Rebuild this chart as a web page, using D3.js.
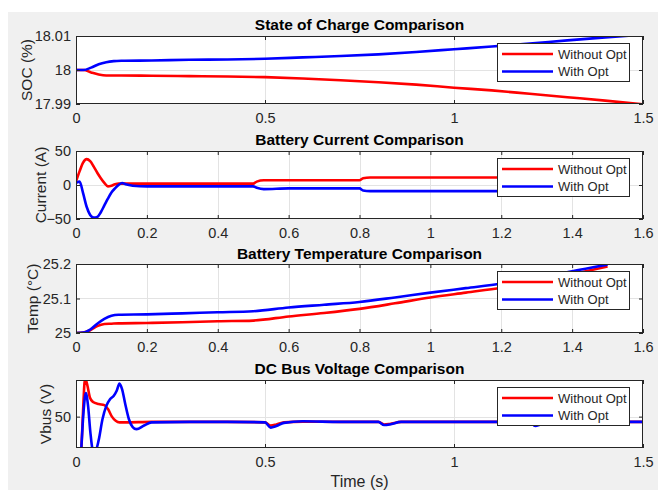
<!DOCTYPE html>
<html>
<head>
<meta charset="utf-8">
<script src="https://cdn.jsdelivr.net/npm/d3@7"></script>
<style>
  body { margin: 0; background: #ffffff; }
  text { font-family: "Liberation Sans", Arial, sans-serif; }
</style>
</head>
<body>
<script>
// ---- data ----
var seriesNames = ["Without Opt", "With Opt"];

// state of charge (%)
var socT = [0, 0.02, 0.04, 0.06, 0.08, 0.1, 0.12, 0.2, 0.3, 0.4, 0.5, 0.6, 0.7, 0.8, 0.9, 1.0, 1.1, 1.2, 1.3, 1.4, 1.5];
var socWithout = [18.0, 18.0, 17.9993, 17.9987, 17.9984, 17.9984, 17.9984, 17.9983, 17.9982, 17.9981, 17.9979,
  17.9975, 17.997, 17.9964, 17.9957, 17.9948, 17.994, 17.993, 17.992, 17.991, 17.9899];
var socWith = [18.0, 18.0, 18.0007, 18.0017, 18.0023, 18.0026, 18.0027, 18.0028, 18.003, 18.0031, 18.0033,
  18.0037, 18.0041, 18.0046, 18.0053, 18.0061, 18.0069, 18.0078, 18.0087, 18.0096, 18.0104];

// battery current (A)
var curT = [0, 0.01, 0.02, 0.03, 0.04, 0.05, 0.06, 0.07, 0.08, 0.09, 0.1, 0.11, 0.12, 0.13, 0.14, 0.16, 0.2, 0.3, 0.4,
  0.5, 0.51, 0.53, 0.6, 0.7, 0.8, 0.81, 0.83, 0.9, 1.0, 1.1, 1.2, 1.3, 1.4, 1.5];
var curWithout = [5, 20, 33, 38, 35, 27, 18, 10, 3, -2, -1, 1, 2, 2, 2, 2, 2, 2, 2,
  2, 5, 7, 7, 7, 7, 10, 11, 11, 11, 11, 11, 11, 11, 11];
var curWith = [3, 5, -12, -32, -44, -48, -47, -40, -30, -20, -11, -5, 0, 3, 1, -1, -2, -2, -2,
  -2, -4, -6, -5, -5, -5, -8, -9, -9, -9, -9, -9, -9, -9, -9];

// battery temperature (°C)
var tempT = [0, 0.02, 0.04, 0.06, 0.08, 0.1, 0.12, 0.2, 0.3, 0.4, 0.5, 0.6, 0.7, 0.8, 0.9, 1.0, 1.1, 1.2, 1.3, 1.4, 1.5];
var tempWithout = [25.0, 25.001, 25.008, 25.02, 25.026, 25.027, 25.028, 25.029, 25.031, 25.034, 25.036,
  25.048, 25.058, 25.07, 25.086, 25.103, 25.117, 25.131, 25.148, 25.17, 25.193];
var tempWith = [25.0, 25.001, 25.01, 25.027, 25.041, 25.05, 25.053, 25.054, 25.057, 25.06, 25.063,
  25.074, 25.082, 25.09, 25.103, 25.117, 25.13, 25.143, 25.158, 25.179, 25.198];

// DC bus voltage (V)
var vbusTWithout = [0, 0.012, 0.018, 0.024, 0.03, 0.037, 0.045, 0.06, 0.075, 0.085, 0.095, 0.105, 0.115, 0.13, 0.2,
  0.3, 0.4, 0.5, 0.515, 0.53, 0.55, 0.6, 0.7, 0.8, 0.815, 0.83, 0.86, 0.9, 1.0, 1.1, 1.2, 1.215, 1.23, 1.26, 1.3, 1.4, 1.5];
var vbusWithout = [30, 40, 50, 57.3, 56, 53.6, 52.8, 52.4, 52.2, 51.4, 50, 49.2, 48.9, 48.9, 49.0,
  49.0, 49.0, 48.9, 48.3, 48.5, 48.9, 49.05, 49.0, 49.0, 48.5, 48.6, 49.0, 49.0, 49.0, 49.0, 49.0, 48.5, 48.7, 49.0, 49.0, 49.0, 49.0];
var vbusTWith = [0, 0.014, 0.02, 0.026, 0.032, 0.038, 0.045, 0.052, 0.06, 0.07, 0.08, 0.09, 0.1, 0.108, 0.115, 0.122,
  0.13, 0.14, 0.15, 0.16, 0.18, 0.2, 0.3, 0.4, 0.5, 0.515, 0.53, 0.55, 0.6, 0.7, 0.8, 0.815, 0.83, 0.86, 0.9,
  1.0, 1.1, 1.2, 1.215, 1.23, 1.26, 1.3, 1.4, 1.5];
var vbusWith = [30, 44, 51, 54.5, 52, 47, 43.6, 43.6, 45.5, 49.5, 52, 53.3, 54, 55, 56.3, 55.2,
  52.5, 49.5, 48, 47.6, 48.3, 48.9, 49.0, 49.0, 48.9, 47.9, 48.2, 48.8, 49.1, 49.0, 49.0, 48.4, 48.5, 49.0, 49.0,
  49.0, 49.0, 49.0, 48.2, 48.5, 49.0, 49.0, 49.0, 49.0];

var xTicksA = [0, 0.5, 1, 1.5];
var xTicksB = [0, 0.2, 0.4, 0.6, 0.8, 1, 1.2, 1.4, 1.6];

var W = 658, H = 490;
var axL = 76, axR = 643;
var axisColor = "#262626", gridColor = "#e3e3e3";
var colors = ["#ff0000", "#0000ff"];

var svg = d3.select("body").append("svg")
  .attr("width", W)
  .attr("height", H);

// figure background
svg.append("rect")
  .attr("x", 8).attr("y", 12)
  .attr("width", W - 8).attr("height", H - 12)
  .attr("fill", "#f0f0f0");

var panels = [
  {title: "State of Charge Comparison", ylab: "SOC (%)", top: 36, bottom: 104, xdom: [0, 1.5], xticks: xTicksA,
   ydom: [17.99, 18.01], yticks: [17.99, 18, 18.01], yfmt: function(d) { return String(+d.toFixed(2)); },
   series: [[socT, socWithout], [socT, socWith]], ylabX: 32, titleY: 30},
  {title: "Battery Current Comparison", ylab: "Current (A)", top: 151, bottom: 219, xdom: [0, 1.6], xticks: xTicksB,
   ydom: [-50, 50], yticks: [-50, 0, 50], yfmt: d3.format(""),
   series: [[curT, curWithout], [curT, curWith]], ylabX: 46, titleY: 145},
  {title: "Battery Temperature Comparison", ylab: "Temp (°C)", top: 264, bottom: 333, xdom: [0, 1.6], xticks: xTicksB,
   ydom: [25, 25.2], yticks: [25, 25.1, 25.2], yfmt: function(d) { return String(+d.toFixed(1)); },
   series: [[tempT, tempWithout], [tempT, tempWith]], ylabX: 38, titleY: 259},
  {title: "DC Bus Voltage Comparison", ylab: "Vbus (V)", top: 380, bottom: 448, xdom: [0, 1.5], xticks: xTicksA,
   ydom: [44, 57], yticks: [50], yfmt: d3.format(""),
   series: [[vbusTWithout, vbusWithout], [vbusTWith, vbusWith]], ylabX: 51, titleY: 374}
];

panels.forEach(function(p, i) {
  var x = d3.scaleLinear().domain(p.xdom).range([axL, axR]);
  var y = d3.scaleLinear().domain(p.ydom).range([p.bottom, p.top]);
  var g = svg.append("g");

  g.append("rect")
    .attr("x", axL).attr("y", p.top)
    .attr("width", axR - axL).attr("height", p.bottom - p.top)
    .attr("fill", "#ffffff");

  // grid
  g.append("g").selectAll("line")
    .data(p.xticks.slice(1, -1))
    .enter().append("line")
    .attr("x1", function(d) { return Math.round(x(d)) + 0.5; })
    .attr("x2", function(d) { return Math.round(x(d)) + 0.5; })
    .attr("y1", p.top).attr("y2", p.bottom)
    .attr("stroke", gridColor);
  g.append("g").selectAll("line")
    .data(p.yticks.filter(function(d) { return d != p.ydom[0] && d != p.ydom[1]; }))
    .enter().append("line")
    .attr("y1", function(d) { return Math.round(y(d)) + 0.5; })
    .attr("y2", function(d) { return Math.round(y(d)) + 0.5; })
    .attr("x1", axL).attr("x2", axR)
    .attr("stroke", gridColor);

  // data lines
  g.append("clipPath").attr("id", "clip" + i)
    .append("rect")
    .attr("x", axL).attr("y", p.top)
    .attr("width", axR - axL).attr("height", p.bottom - p.top);

  var line = d3.line()
    .x(function(d) { return x(d[0]); })
    .y(function(d) { return y(d[1]); })
    .curve(d3.curveMonotoneX);

  p.series.forEach(function(s, k) {
    var pts = s[0].map(function(t, j) { return [t, s[1][j]]; });
    g.append("path")
      .datum(pts)
      .attr("clip-path", "url(#clip" + i + ")")
      .attr("fill", "none")
      .attr("stroke", colors[k])
      .attr("stroke-width", 2.6)
      .attr("stroke-linejoin", "round")
      .attr("d", line);
  });

  // axes (ticks inside, MATLAB style)
  var xb = g.append("g").attr("transform", "translate(0," + p.bottom + ")")
    .call(d3.axisBottom(x).tickValues(p.xticks).tickSizeInner(-4).tickSizeOuter(0).tickPadding(9)
      .tickFormat(d3.format("")));
  var xt = g.append("g").attr("transform", "translate(0," + p.top + ")")
    .call(d3.axisTop(x).tickValues(p.xticks).tickSizeInner(-4).tickSizeOuter(0).tickFormat(""));
  var yl = g.append("g").attr("transform", "translate(" + axL + ",0)")
    .call(d3.axisLeft(y).tickValues(p.yticks).tickSizeInner(-4).tickSizeOuter(0).tickPadding(5).tickFormat(p.yfmt));
  var yr = g.append("g").attr("transform", "translate(" + axR + ",0)")
    .call(d3.axisRight(y).tickValues(p.yticks).tickSizeInner(-4).tickSizeOuter(0).tickFormat(""));

  [xb, xt, yl, yr].forEach(function(a) {
    a.select(".domain").remove();
    a.selectAll("line").attr("stroke", axisColor);
    a.selectAll("text")
      .attr("fill", axisColor)
      .style("font-size", "14.5px")
      .style("font-family", "'Liberation Sans', Arial, sans-serif");
  });

  g.append("rect")
    .attr("x", axL + 0.5).attr("y", p.top + 0.5)
    .attr("width", axR - axL - 1).attr("height", p.bottom - p.top - 1)
    .attr("fill", "none")
    .attr("stroke", axisColor);

  // title and y label
  g.append("text")
    .attr("x", (axL + axR) / 2)
    .attr("y", p.titleY)
    .attr("text-anchor", "middle")
    .style("font-size", "15.5px")
    .style("font-weight", "bold")
    .attr("fill", "#000")
    .text(p.title);

  var cy = (p.top + p.bottom) / 2;
  g.append("text")
    .attr("transform", "translate(" + p.ylabX + "," + cy + ") rotate(-90)")
    .attr("text-anchor", "middle")
    .style("font-size", "15.5px")
    .attr("fill", axisColor)
    .text(p.ylab);

  // legend
  var lx = 497, ly = p.top + 7;
  var leg = g.append("g").attr("transform", "translate(" + lx + "," + ly + ")");
  leg.append("rect")
    .attr("x", 0.5).attr("y", 0.5)
    .attr("width", 132).attr("height", 38)
    .attr("fill", "#ffffff")
    .attr("stroke", axisColor);
  seriesNames.forEach(function(name, k) {
    var ry = 11 + k * 17.5;
    leg.append("line")
      .attr("x1", 5).attr("x2", 56)
      .attr("y1", ry).attr("y2", ry)
      .attr("stroke", colors[k])
      .attr("stroke-width", 2.6);
    leg.append("text")
      .attr("x", 61).attr("y", ry + 4.5)
      .style("font-size", "13px")
      .attr("fill", axisColor)
      .text(name);
  });
});

svg.append("text")
  .attr("x", (axL + axR) / 2)
  .attr("y", 487)
  .attr("text-anchor", "middle")
  .style("font-size", "16px")
  .attr("fill", axisColor)
  .text("Time (s)");
</script>
</body>
</html>
